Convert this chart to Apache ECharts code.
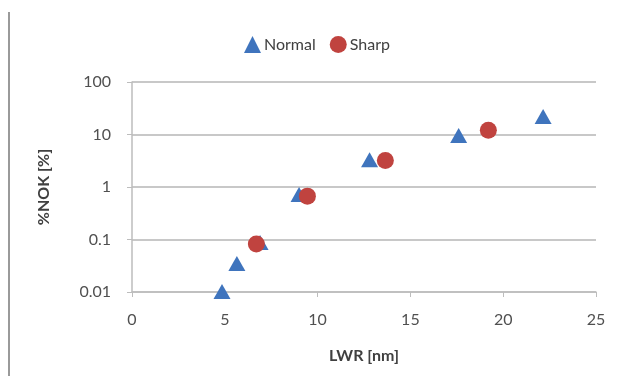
<!DOCTYPE html>
<html>
<head>
<meta charset="utf-8">
<script src="https://cdn.jsdelivr.net/npm/echarts@6/dist/echarts.min.js"></script>
<style>
  html, body { margin: 0; padding: 0; background: #fff; }
  #chart { width: 622px; height: 383px; }
</style>
</head>
<body>
<div id="chart"></div>
<script>
// LWR [nm] vs %NOK [%]
const normalLwr = [4.85, 5.65, 6.9, 9.0, 12.8, 17.6, 22.15];
const normalNok = [0.0102, 0.035, 0.088, 0.72, 3.3, 9.6, 22];
const sharpLwr = [6.7, 9.45, 13.65, 19.2];
const sharpNok = [0.082, 0.67, 3.2, 12];
const yTickLabels = ["0.01", "0.1", "1", "10", "100"];

const font = "Lato, 'Open Sans', sans-serif";
const blue = "#3f74bd";
const red = "#c0433f";

const chart = echarts.init(document.getElementById("chart"));

chart.setOption({
  backgroundColor: "#fff",
  animation: false,
  textStyle: { fontFamily: font },
  legend: {
    top: 31,
    left: 239,
    itemGap: 14,
    itemWidth: 17,
    itemHeight: 17,
    textStyle: { color: "#404040", fontSize: 16, fontFamily: font, padding: [0, 0, 0, -2] },
    data: [
      { name: "Normal", icon: "triangle" },
      { name: "Sharp", icon: "circle" },
    ],
  },
  grid: { left: 132, right: 26, top: 82, bottom: 91 },
  xAxis: {
    type: "value",
    min: 0,
    max: 25,
    interval: 5,
    name: "LWR [nm]",
    nameLocation: "middle",
    nameGap: 56,
    nameTextStyle: { color: "#404040", fontSize: 16, fontWeight: "bold", fontFamily: font },
    axisLine: { lineStyle: { color: "#bdbdbd", width: 1.5 } },
    axisTick: { show: true, length: 5, lineStyle: { color: "#bdbdbd" } },
    axisLabel: { color: "#505050", fontSize: 16, margin: 20, fontFamily: font },
    splitLine: { show: false },
  },
  yAxis: {
    type: "log",
    logBase: 10,
    min: 0.01,
    max: 100,
    name: "%NOK [%]",
    nameLocation: "middle",
    nameGap: 80,
    nameRotate: 90,
    nameTextStyle: { color: "#404040", fontSize: 16, fontWeight: "bold", fontFamily: font },
    axisLine: { show: true, lineStyle: { color: "#bdbdbd", width: 1.5 } },
    axisTick: { show: true, length: 5, lineStyle: { color: "#bdbdbd" } },
    axisLabel: {
      color: "#505050",
      fontSize: 16,
      margin: 21,
      fontFamily: font,
      formatter: (v) => {
        const i = Math.round(Math.log10(v)) + 2;
        return yTickLabels[i] ?? "";
      },
    },
    splitLine: { lineStyle: { color: "#c8c8c8", width: 2 } },
  },
  graphic: [
    {
      type: "line",
      shape: { x1: 9, y1: 12, x2: 9, y2: 376 },
      style: { stroke: "#9a9a9a", lineWidth: 2 },
    },
  ],
  series: [
    {
      name: "Normal",
      type: "scatter",
      symbol: "triangle",
      symbolSize: [17, 15],
      itemStyle: { color: blue, opacity: 1 },
      data: normalLwr.map((x, i) => [x, normalNok[i]]),
    },
    {
      name: "Sharp",
      type: "scatter",
      symbol: "circle",
      symbolSize: 17,
      itemStyle: { color: red, opacity: 1 },
      data: sharpLwr.map((x, i) => [x, sharpNok[i]]),
    },
  ],
});
</script>
</body>
</html>
